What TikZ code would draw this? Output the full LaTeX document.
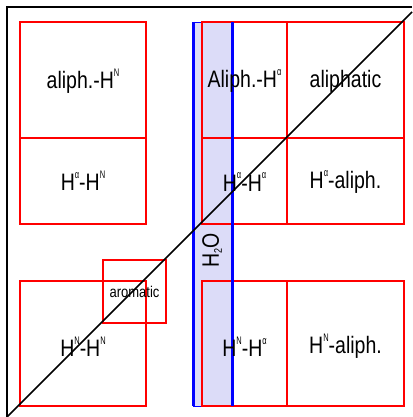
\documentclass[tikz,border=0pt]{standalone}
\usepackage{fontspec}
\setmainfont{Liberation Sans}
\newcommand{\sps}[1]{\raisebox{10pt}{\scalebox{1}[1.2]{\fontsize{7.5}{7.5}\selectfont #1}}}
\newcommand{\sbs}[1]{\raisebox{-2.5pt}{\fontsize{9}{9}\selectfont #1}}
\newcommand{\tall}[1]{\scalebox{1}[1.22]{#1}}
\definecolor{bandfill}{RGB}{220,220,248}
\begin{document}
\begin{tikzpicture}[x=1pt,y=-1pt,
  rbox/.style={draw=red,line width=1.3pt,inner sep=0pt},
  band/.style={draw=blue,line width=0.8pt,fill=bandfill,inner sep=0pt},
  bline/.style={draw=blue,line width=3pt},
  frame/.style={draw=black,line width=1.6pt},
  diag/.style={draw=black,line width=1.5pt},
  lab/.style={font=\fontsize{19.5}{20}\selectfont,inner sep=0pt}]
\useasboundingbox (0,0) rectangle (412,417);
% water band
\node[band,minimum width=39pt,minimum height=384pt] (w) at (212.5,214) {};
% red boxes
\node[rbox,minimum width=126pt,minimum height=116pt] (ahn) at (83,80) {};
\node[rbox,minimum width=126pt,minimum height=86pt] (hahn) at (83,181) {};
\node[rbox,minimum width=126pt,minimum height=125pt] (hnhn) at (83,343.5) {};
\node[rbox,minimum width=85pt,minimum height=116pt] (aha) at (244.5,80) {};
\node[rbox,minimum width=117pt,minimum height=116pt] (al) at (345.5,80) {};
\node[rbox,minimum width=85pt,minimum height=86pt] (haha) at (244.5,181) {};
\node[rbox,minimum width=117pt,minimum height=86pt] (hal) at (345.5,181) {};
\node[rbox,minimum width=85pt,minimum height=125pt] (hnha) at (244.5,343.5) {};
\node[rbox,minimum width=117pt,minimum height=125pt] (hnal) at (345.5,343.5) {};
\node[rbox,minimum width=63pt,minimum height=63pt] (ar) at (134.5,291.5) {};
% blue side lines
\coordinate (wl1) at (193.2,22);
\coordinate (wl2) at (193.2,406);
\coordinate (wr1) at (232.2,22);
\coordinate (wr2) at (232.2,406);
\draw[bline] (wl1) -- (wl2);
\draw[bline] (wr1) -- (wr2);
% frame
\coordinate (tl) at (7,7);
\coordinate (tr) at (412,7);
\coordinate (bl) at (7,417);
\coordinate (de) at (412,12);
\draw[frame] (tr) -- (tl) -- (bl);
\draw[diag] (bl) -- (de);
% labels
\node[lab] at ([yshift=-1pt]ahn.center) {\tall{aliph.-H\sps{N}}};
\node[lab] at (hahn) {\tall{H\sps{α}-H\sps{N}}};
\node[lab] at ([yshift=-1pt]aha.center) {\tall{Aliph.-H\sps{α}}};
\node[lab] at ([yshift=-1pt]al.center) {\tall{aliphatic}};
\node[lab] at ([yshift=-1pt]haha.center) {\tall{H\sps{α}-H\sps{α}}};
\node[lab] at ([yshift=-1pt]hal.center) {\tall{H\sps{α}-aliph.}};
\node[lab] at ([yshift=-3pt]hnhn.center) {\tall{H\sps{N}-H\sps{N}}};
\node[lab] at ([yshift=-3pt]hnha.center) {\tall{H\sps{N}-H\sps{α}}};
\node[lab] at ([yshift=-3pt]hnal.center) {\tall{H\sps{N}-aliph.}};
\node[font=\fontsize{13}{13}\selectfont,inner sep=0pt] at (ar) {\scalebox{1}[1.2]{aromatic}};
\node[lab,rotate=90] (h2o) at (212,250) {\tall{H\sbs{2}O}};
\end{tikzpicture}
\end{document}
